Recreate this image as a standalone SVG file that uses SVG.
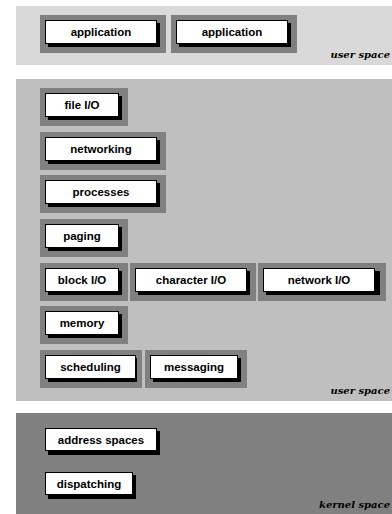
<svg xmlns="http://www.w3.org/2000/svg" width="392" height="514" viewBox="0 0 392 514">
<style>
.p1{fill:#d9d9d9}
.p2{fill:#bfbfbf}
.p3{fill:#808080}
.fr{fill:#808080}
.sh{fill:#000}
.bx{fill:#fff;stroke:#000;stroke-width:1}
.lb{font-family:"Liberation Sans",Arial,sans-serif;font-weight:bold;font-size:11.5px;fill:#000;text-anchor:middle}
.sp{font-family:"DejaVu Serif","Liberation Serif",serif;font-style:italic;font-weight:bold;font-size:10px;fill:#000;text-anchor:end}
</style>
<g id="panels">
<rect class="p1" x="16" y="6" width="376" height="59"/>
<rect class="p2" x="16" y="79" width="376" height="322"/>
<rect class="p3" x="16" y="413" width="376" height="101"/>
<text class="sp" x="390" y="58">user space</text>
<text class="sp" x="390" y="394">user space</text>
<text class="sp" x="390" y="507.5">kernel space</text>
</g>
<g id="application1" transform="translate(40,15)">
<rect class="fr" width="126" height="38"/><rect class="sh" x="8" y="8" width="112" height="24"/><rect class="bx" x="5.5" y="5.5" width="111" height="23"/><text class="lb" x="61" y="21">application</text>
</g>
<g id="application2" transform="translate(171,15)">
<rect class="fr" width="126" height="38"/><rect class="sh" x="8" y="8" width="112" height="24"/><rect class="bx" x="5.5" y="5.5" width="111" height="23"/><text class="lb" x="61" y="21">application</text>
</g>
<g id="fileio" transform="translate(40,88)">
<rect class="fr" width="88" height="38"/><rect class="sh" x="8" y="8" width="74" height="24"/><rect class="bx" x="5.5" y="5.5" width="73" height="23"/><text class="lb" x="42" y="21">file I/O</text>
</g>
<g id="networking" transform="translate(40,132)">
<rect class="fr" width="126" height="38"/><rect class="sh" x="8" y="8" width="112" height="24"/><rect class="bx" x="5.5" y="5.5" width="111" height="23"/><text class="lb" x="61" y="21">networking</text>
</g>
<g id="processes" transform="translate(40,175)">
<rect class="fr" width="126" height="38"/><rect class="sh" x="8" y="8" width="112" height="24"/><rect class="bx" x="5.5" y="5.5" width="111" height="23"/><text class="lb" x="61" y="21">processes</text>
</g>
<g id="paging" transform="translate(40,219)">
<rect class="fr" width="88" height="38"/><rect class="sh" x="8" y="8" width="74" height="24"/><rect class="bx" x="5.5" y="5.5" width="73" height="23"/><text class="lb" x="42" y="21">paging</text>
</g>
<g id="blockio" transform="translate(40,263)">
<rect class="fr" width="88" height="38"/><rect class="sh" x="8" y="8" width="74" height="24"/><rect class="bx" x="5.5" y="5.5" width="73" height="23"/><text class="lb" x="42" y="21">block I/O</text>
</g>
<g id="characterio" transform="translate(130,263)">
<rect class="fr" width="126" height="38"/><rect class="sh" x="8" y="8" width="112" height="24"/><rect class="bx" x="5.5" y="5.5" width="111" height="23"/><text class="lb" x="61" y="21">character I/O</text>
</g>
<g id="networkio" transform="translate(258,263)">
<rect class="fr" width="128" height="38"/><rect class="sh" x="8" y="8" width="114" height="24"/><rect class="bx" x="5.5" y="5.5" width="111" height="23"/><text class="lb" x="61" y="21">network I/O</text>
</g>
<g id="memory" transform="translate(40,306)">
<rect class="fr" width="88" height="38"/><rect class="sh" x="8" y="8" width="74" height="24"/><rect class="bx" x="5.5" y="5.5" width="73" height="23"/><text class="lb" x="42" y="21">memory</text>
</g>
<g id="scheduling" transform="translate(40,350)">
<rect class="fr" width="102" height="38"/><rect class="sh" x="8" y="8" width="89" height="24"/><rect class="bx" x="5.5" y="5.5" width="90" height="23"/><text class="lb" x="50.5" y="21">scheduling</text>
</g>
<g id="messaging" transform="translate(145,350)">
<rect class="fr" width="102" height="38"/><rect class="sh" x="8" y="8" width="88" height="24"/><rect class="bx" x="5.5" y="5.5" width="87" height="23"/><text class="lb" x="49" y="21">messaging</text>
</g>
<g id="addressspaces" transform="translate(40,423)">
<rect class="sh" x="8" y="8" width="112" height="24"/><rect class="bx" x="5.5" y="5.5" width="111" height="22"/><text class="lb" x="61" y="20.5">address spaces</text>
</g>
<g id="dispatching" transform="translate(40,467)">
<rect class="sh" x="8" y="8" width="88" height="24"/><rect class="bx" x="5.5" y="5.5" width="87" height="22"/><text class="lb" x="49" y="20.5">dispatching</text>
</g>
<g id="connectors"/>
</svg>
